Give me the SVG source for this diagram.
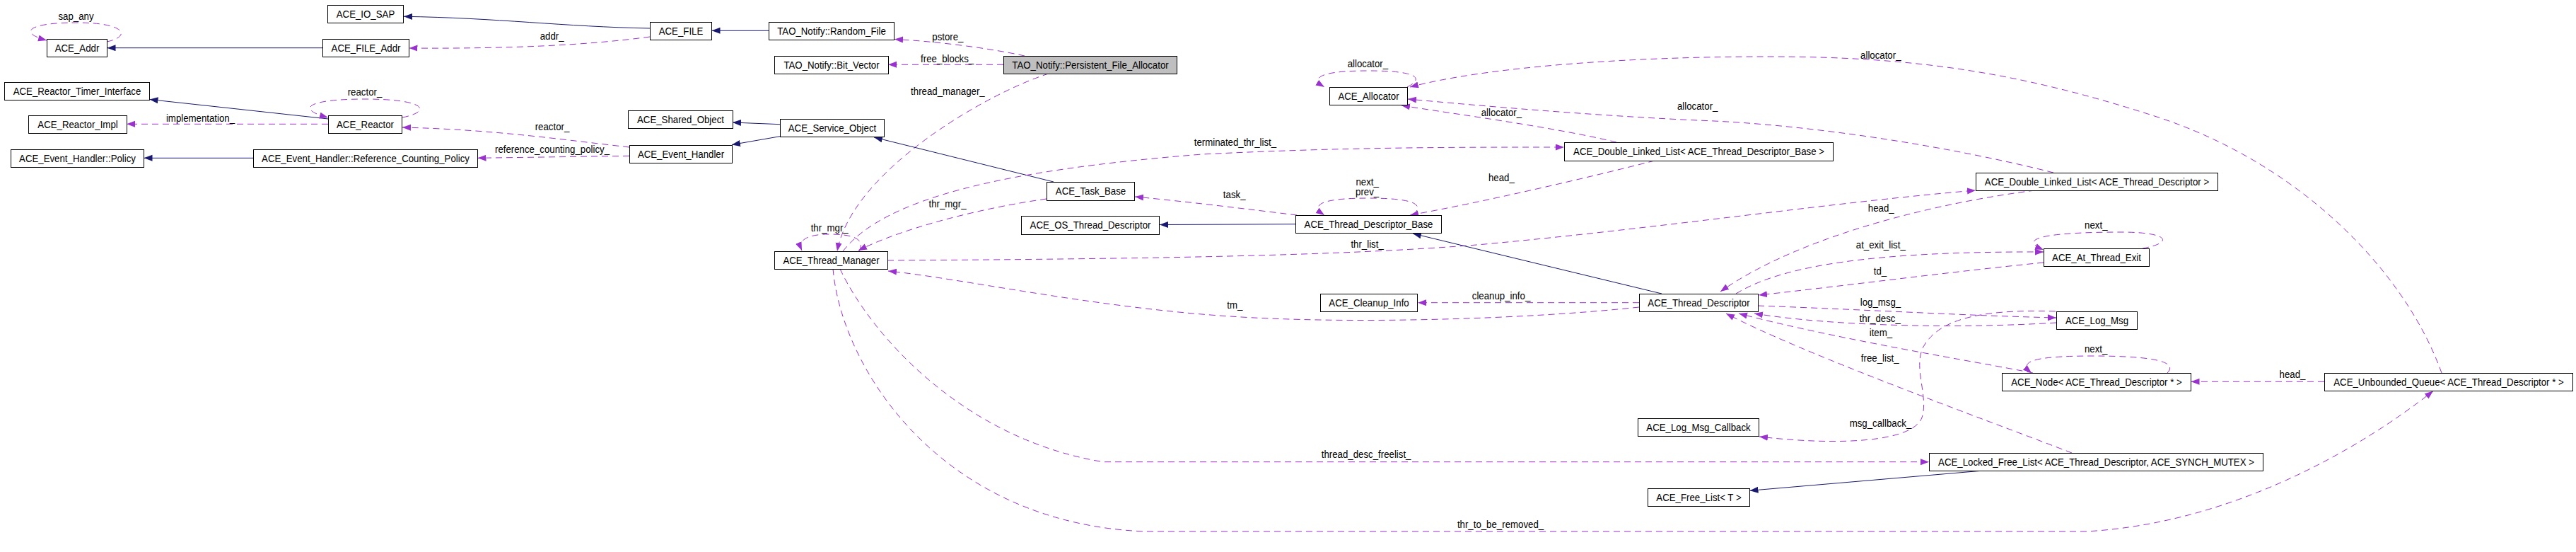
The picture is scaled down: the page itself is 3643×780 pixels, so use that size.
<svg xmlns="http://www.w3.org/2000/svg" width="3643" height="780" viewBox="0 0 3643 780">
<style>
.n rect{fill:#fff;stroke:#000;stroke-width:1}
.n rect.main{fill:#bfbfbf}
text{font-family:"Liberation Sans",Arial,sans-serif;font-size:14.5px;text-anchor:middle;fill:#000}
.u{fill:none;stroke:#9a32cd;stroke-width:1;stroke-dasharray:9,6;marker-end:url(#ap)}
.i{fill:none;stroke:#191970;stroke-width:1;marker-end:url(#an)}
</style>
<defs>
<marker id="ap" markerUnits="userSpaceOnUse" markerWidth="13" markerHeight="10" refX="12" refY="4.5" orient="auto" viewBox="0 0 13 10"><path d="M0,0 L12,4.5 L0,9 z" fill="#9a32cd"/></marker>
<marker id="an" markerUnits="userSpaceOnUse" markerWidth="13" markerHeight="10" refX="12" refY="4.5" orient="auto" viewBox="0 0 13 10"><path d="M0,0 L12,4.5 L0,9 z" fill="#191970"/></marker>
</defs>
<rect width="3643" height="780" fill="#fff"/>
<g id="edges">
<path class="u" d="M151,59 C185,52 180,32 108,32 C40,32 25,46 66,57"/>
<path class="i" d="M456,67.7 L151.5,67.7"/>
<path class="i" d="M919,40 C800,38 700,25 571,23.3"/>
<path class="u" d="M919,52 C830,64 720,69 578.5,68"/>
<path class="i" d="M1087,43.3 L1006.5,43.3"/>
<path class="u" d="M1449,79 C1400,68 1320,58 1265,55.5"/>
<path class="u" d="M1419,91.3 L1256,91.3"/>
<path class="u" d="M1483,104 C1400,130 1205,240 1184,355"/>
<path class="i" d="M1103,175.7 L1036,173"/>
<path class="i" d="M1103,192.7 L1035,204.5"/>
<path class="i" d="M1490,257 L1236,194"/>
<path class="u" d="M890,208 C800,198 700,183 569,180"/>
<path class="u" d="M890,220.3 L675.5,223.3"/>
<path class="i" d="M464,168 L211.5,140.5"/>
<path class="u" d="M464,175.3 L179,175.3"/>
<path class="u" d="M569,166 C610,158 605,140 516,140 C430,140 420,155 464,166"/>
<path class="i" d="M358,223.3 L203.5,223.3"/>
<path class="u" d="M1480,281 C1380,295 1270,325 1214,354"/>
<path class="u" d="M1215,355 C1225,335 1200,331 1173,331 C1140,331 1128,340 1134,354"/>
<path class="u" d="M1192,355 C1250,280 1420,240 1700,218 C1900,208 2050,208 2212,208"/>
<path class="u" d="M1255,368 C1600,366 1900,362 2100,345 C2350,322 2600,285 2794,269"/>
<path class="u" d="M2318,434 C2150,452 1900,458 1740,447 C1550,435 1350,392 1256,383"/>
<path class="u" d="M2318,427.7 L2005,427.7"/>
<path class="i" d="M2350,415 L1998,330"/>
<path class="i" d="M1832,316.7 L1640,317.5"/>
<path class="u" d="M1834,304 C1760,295 1680,285 1605,278"/>
<path class="u" d="M1998,304 C2012,292 2010,280 1935,280 C1860,280 1855,292 1873,304"/>
<path class="u" d="M2340,227 C2250,250 2100,285 1994,304"/>
<path class="u" d="M2286,201 C2200,180 2050,160 1982,149"/>
<path class="u" d="M1990,123 C2012,112 2010,100 1935,100 C1860,100 1855,112 1873,123"/>
<path class="u" d="M2904,244 C2750,205 2550,175 2400,170 C2250,163 2100,150 1991,140"/>
<path class="u" d="M3453,527 C3400,380 3250,230 3050,165 C2850,100 2700,80 2500,80 C2300,80 2100,95 1994,123"/>
<path class="u" d="M2878,269 C2750,285 2550,330 2433,412"/>
<path class="u" d="M2455,415 C2520,375 2650,355 2890,356"/>
<path class="u" d="M2890,371 C2750,385 2600,405 2487,417"/>
<path class="u" d="M3030,351 C3075,343 3068,328 3000,328 C2900,328 2850,336 2890,353"/>
<path class="u" d="M2486,432 C2650,438 2780,446 2908,449"/>
<path class="u" d="M2908,456 C2780,464 2600,462 2481,443"/>
<path class="u" d="M2907,440 C2790,436 2740,455 2720,490 C2705,520 2728,560 2718,590 C2705,625 2600,630 2488,617"/>
<path class="u" d="M2875,527 C2800,512 2600,480 2459,443"/>
<path class="u" d="M2930,640 C2800,590 2550,500 2441,443"/>
<path class="u" d="M3065,527 C3080,512 3050,503 2960,503 C2870,503 2855,512 2873,527"/>
<path class="u" d="M3287,539.3 L3098.5,539.3"/>
<path class="u" d="M1188,380 C1230,470 1360,620 1560,652.7 L2728,652.7"/>
<path class="u" d="M1178,380 C1190,520 1330,740 1620,751 L2950,751 C3150,740 3330,640 3441,552.5"/>
<path class="i" d="M2805,665 L2474.5,693.3"/>
<g id="edge-labels">
<text transform="translate(107.5,28.3) scale(0.915,1)">sap_any</text>
<text transform="translate(780.7,56) scale(0.915,1)">addr_</text>
<text transform="translate(1340.4,56.7) scale(0.915,1)">pstore_</text>
<text transform="translate(1339.6,87.7) scale(0.915,1)">free_blocks_</text>
<text transform="translate(1340.4,134.3) scale(0.915,1)">thread_manager_</text>
<text transform="translate(781,184) scale(0.915,1)">reactor_</text>
<text transform="translate(781,216) scale(0.915,1)">reference_counting_policy_</text>
<text transform="translate(283.5,171.7) scale(0.915,1)">implementation_</text>
<text transform="translate(516,135) scale(0.915,1)">reactor_</text>
<text transform="translate(1340,292.7) scale(0.915,1)">thr_mgr_</text>
<text transform="translate(1173.2,326.7) scale(0.915,1)">thr_mgr_</text>
<text transform="translate(1746.9,206) scale(0.915,1)">terminated_thr_list_</text>
<text transform="translate(1933.6,350) scale(0.915,1)">thr_list_</text>
<text transform="translate(1746.3,436) scale(0.915,1)">tm_</text>
<text transform="translate(2123,422.7) scale(0.915,1)">cleanup_info_</text>
<text transform="translate(1745.7,280) scale(0.915,1)">task_</text>
<text transform="translate(1933.6,261.7) scale(0.915,1)">next_</text>
<text transform="translate(1933.6,276) scale(0.915,1)">prev_</text>
<text transform="translate(2123.4,255.7) scale(0.915,1)">head_</text>
<text transform="translate(2123.4,164) scale(0.915,1)">allocator_</text>
<text transform="translate(1934.4,95) scale(0.915,1)">allocator_</text>
<text transform="translate(2400.7,155) scale(0.915,1)">allocator_</text>
<text transform="translate(2659.8,82.7) scale(0.915,1)">allocator_</text>
<text transform="translate(2660.2,299) scale(0.915,1)">head_</text>
<text transform="translate(2659.8,350.7) scale(0.915,1)">at_exit_list_</text>
<text transform="translate(2659,387.7) scale(0.915,1)">td_</text>
<text transform="translate(2964.3,322.7) scale(0.915,1)">next_</text>
<text transform="translate(2659.5,431.7) scale(0.915,1)">log_msg_</text>
<text transform="translate(2658.7,455) scale(0.915,1)">thr_desc_</text>
<text transform="translate(2659.9,475) scale(0.915,1)">item_</text>
<text transform="translate(2658.7,511) scale(0.915,1)">free_list_</text>
<text transform="translate(2659.5,602.7) scale(0.915,1)">msg_callback_</text>
<text transform="translate(2964.1,498.3) scale(0.915,1)">next_</text>
<text transform="translate(3242,534.3) scale(0.915,1)">head_</text>
<text transform="translate(1932.1,646.7) scale(0.915,1)">thread_desc_freelist_</text>
<text transform="translate(2122,746) scale(0.915,1)">thr_to_be_removed_</text>
</g>
</g>
<g id="nodes">
<g id="ACE_IO_SAP" class="n"><rect x="463.5" y="7.5" width="107" height="25"/><text transform="translate(517,24.5) scale(0.915,1)">ACE_IO_SAP</text></g>
<g id="ACE_Addr" class="n"><rect x="66.5" y="55.5" width="85" height="25"/><text transform="translate(109,72.5) scale(0.915,1)">ACE_Addr</text></g>
<g id="ACE_FILE_Addr" class="n"><rect x="456.5" y="55.5" width="122" height="25"/><text transform="translate(517.5,72.5) scale(0.915,1)">ACE_FILE_Addr</text></g>
<g id="ACE_FILE" class="n"><rect x="919.5" y="31.5" width="87" height="25"/><text transform="translate(963,48.5) scale(0.915,1)">ACE_FILE</text></g>
<g id="TAO_Notify_Random_File" class="n"><rect x="1087.5" y="31.5" width="177" height="25"/><text transform="translate(1176,48.5) scale(0.915,1)">TAO_Notify::Random_File</text></g>
<g id="TAO_Notify_Bit_Vector" class="n"><rect x="1095.5" y="79.5" width="161" height="25"/><text transform="translate(1176,96.5) scale(0.915,1)">TAO_Notify::Bit_Vector</text></g>
<g id="TAO_Notify_Persistent_File_Allocator" class="n"><rect class="main" x="1419.5" y="79.5" width="245" height="25"/><text transform="translate(1542,96.5) scale(0.915,1)">TAO_Notify::Persistent_File_Allocator</text></g>
<g id="ACE_Reactor_Timer_Interface" class="n"><rect x="6.5" y="116.5" width="205" height="25"/><text transform="translate(109,133.5) scale(0.915,1)">ACE_Reactor_Timer_Interface</text></g>
<g id="ACE_Reactor_Impl" class="n"><rect x="40.5" y="163.5" width="139" height="25"/><text transform="translate(110,180.5) scale(0.915,1)">ACE_Reactor_Impl</text></g>
<g id="ACE_Reactor" class="n"><rect x="464.5" y="163.5" width="104" height="25"/><text transform="translate(516.5,180.5) scale(0.915,1)">ACE_Reactor</text></g>
<g id="ACE_Event_Handler_Policy" class="n"><rect x="15.5" y="211.5" width="188" height="25"/><text transform="translate(109.5,228.5) scale(0.915,1)">ACE_Event_Handler::Policy</text></g>
<g id="ACE_Event_Handler_Reference_Counting_Policy" class="n"><rect x="358.5" y="211.5" width="317" height="25"/><text transform="translate(517,228.5) scale(0.915,1)">ACE_Event_Handler::Reference_Counting_Policy</text></g>
<g id="ACE_Shared_Object" class="n"><rect x="888.5" y="156.5" width="148" height="25"/><text transform="translate(962.5,173.5) scale(0.915,1)">ACE_Shared_Object</text></g>
<g id="ACE_Service_Object" class="n"><rect x="1103.5" y="168.5" width="147" height="25"/><text transform="translate(1177,185.5) scale(0.915,1)">ACE_Service_Object</text></g>
<g id="ACE_Event_Handler" class="n"><rect x="890.5" y="205.5" width="145" height="25"/><text transform="translate(963,222.5) scale(0.915,1)">ACE_Event_Handler</text></g>
<g id="ACE_Thread_Manager" class="n"><rect x="1095.5" y="355.5" width="160" height="25"/><text transform="translate(1175.5,372.5) scale(0.915,1)">ACE_Thread_Manager</text></g>
<g id="ACE_Task_Base" class="n"><rect x="1480.5" y="257.5" width="124" height="26"/><text transform="translate(1542.5,275) scale(0.915,1)">ACE_Task_Base</text></g>
<g id="ACE_OS_Thread_Descriptor" class="n"><rect x="1444.5" y="305.5" width="195" height="26"/><text transform="translate(1542,323) scale(0.915,1)">ACE_OS_Thread_Descriptor</text></g>
<g id="ACE_Allocator" class="n"><rect x="1880.5" y="123.5" width="110" height="25"/><text transform="translate(1935.5,140.5) scale(0.915,1)">ACE_Allocator</text></g>
<g id="ACE_Double_Linked_List_TDB" class="n"><rect x="2212.5" y="201.5" width="380" height="26"/><text transform="translate(2402.5,219) scale(0.915,1)">ACE_Double_Linked_List&lt; ACE_Thread_Descriptor_Base &gt;</text></g>
<g id="ACE_Thread_Descriptor_Base" class="n"><rect x="1832.5" y="304.5" width="206" height="25"/><text transform="translate(1935.5,321.5) scale(0.915,1)">ACE_Thread_Descriptor_Base</text></g>
<g id="ACE_Double_Linked_List_TD" class="n"><rect x="2794.5" y="244.5" width="342" height="25"/><text transform="translate(2965.5,261.5) scale(0.915,1)">ACE_Double_Linked_List&lt; ACE_Thread_Descriptor &gt;</text></g>
<g id="ACE_At_Thread_Exit" class="n"><rect x="2890.5" y="351.5" width="149" height="25"/><text transform="translate(2965,368.5) scale(0.915,1)">ACE_At_Thread_Exit</text></g>
<g id="ACE_Cleanup_Info" class="n"><rect x="1867.5" y="415.5" width="137" height="25"/><text transform="translate(1936,432.5) scale(0.915,1)">ACE_Cleanup_Info</text></g>
<g id="ACE_Thread_Descriptor" class="n"><rect x="2318.5" y="415.5" width="168" height="25"/><text transform="translate(2402.5,432.5) scale(0.915,1)">ACE_Thread_Descriptor</text></g>
<g id="ACE_Log_Msg" class="n"><rect x="2908.5" y="440.5" width="114" height="25"/><text transform="translate(2965.5,457.5) scale(0.915,1)">ACE_Log_Msg</text></g>
<g id="ACE_Node_TD" class="n"><rect x="2831.5" y="527.5" width="267" height="25"/><text transform="translate(2965,544.5) scale(0.915,1)">ACE_Node&lt; ACE_Thread_Descriptor * &gt;</text></g>
<g id="ACE_Unbounded_Queue_TD" class="n"><rect x="3287.5" y="527.5" width="351" height="25"/><text transform="translate(3463,544.5) scale(0.915,1)">ACE_Unbounded_Queue&lt; ACE_Thread_Descriptor * &gt;</text></g>
<g id="ACE_Log_Msg_Callback" class="n"><rect x="2316.5" y="591.5" width="171" height="25"/><text transform="translate(2402,608.5) scale(0.915,1)">ACE_Log_Msg_Callback</text></g>
<g id="ACE_Locked_Free_List" class="n"><rect x="2728.5" y="640.5" width="472" height="25"/><text transform="translate(2964.5,657.5) scale(0.915,1)">ACE_Locked_Free_List&lt; ACE_Thread_Descriptor, ACE_SYNCH_MUTEX &gt;</text></g>
<g id="ACE_Free_List_T" class="n"><rect x="2330.5" y="690.5" width="144" height="25"/><text transform="translate(2402.5,707.5) scale(0.915,1)">ACE_Free_List&lt; T &gt;</text></g>
</g>
</svg>
